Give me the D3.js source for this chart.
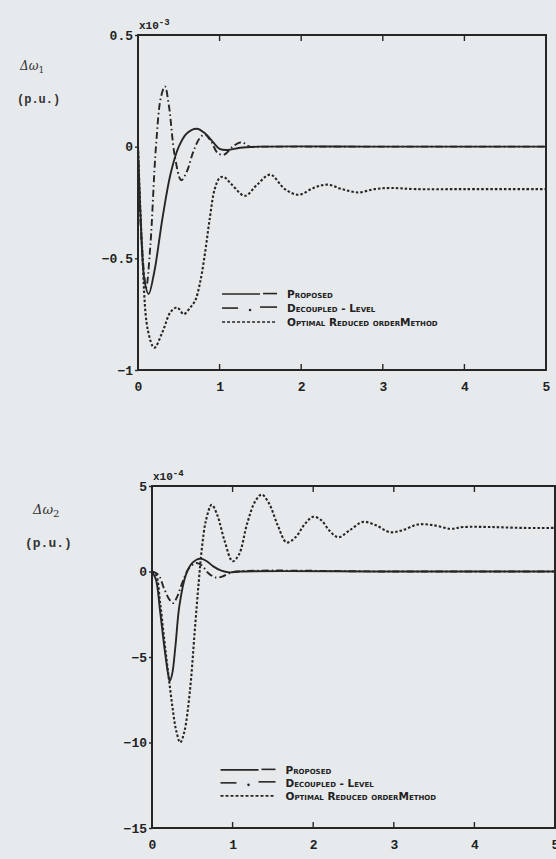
<!DOCTYPE html>
<html>
<head>
<meta charset="utf-8">
<script src="https://cdn.jsdelivr.net/npm/d3@7/dist/d3.min.js"></script>
<style>
  html, body { margin: 0; padding: 0; background: #e7eaed; }
  svg { display: block; }
  .tick-lbl { font-family: "Liberation Mono", "DejaVu Sans Mono", monospace; font-weight: bold; font-size: 13px; fill: #222; }
  .lgd { font-family: "DejaVu Sans", sans-serif; font-weight: bold; font-size: 10.5px; font-variant: small-caps; fill: #222; }
  .ylab { font-family: "DejaVu Serif", serif; fill: #333; }
</style>
</head>
<body>
<script>
// ---- data ----
var xTicks = [0, 1, 2, 3, 4, 5];
var topYTicks = [0.5, 0, -0.5, -1];
var botYTicks = [5, 0, -5, -10, -15];
var legendLabels = ["Proposed", "Decoupled - Level", "Optimal Reduced orderMethod"];

// top panel, delta w1 (x10^-3 p.u.)
var top_proposed = [[0,0],[0.03,-0.3],[0.08,-0.6],[0.13,-0.66],[0.2,-0.56],[0.3,-0.32],[0.4,-0.12],[0.5,0.0],
  [0.6,0.06],[0.72,0.08],[0.82,0.06],[0.92,0.02],[1.0,-0.01],[1.1,-0.015],[1.25,-0.005],[1.5,0],[3,0],[5,0]];
var top_decoupled = [[0,0],[0.04,-0.4],[0.1,-0.63],[0.15,-0.45],[0.22,0.0],[0.28,0.22],[0.33,0.27],[0.38,0.18],
  [0.45,-0.04],[0.53,-0.15],[0.6,-0.11],[0.68,-0.02],[0.76,0.04],[0.82,0.055],[0.9,0.02],[0.98,-0.03],[1.06,-0.035],
  [1.16,0.0],[1.27,0.02],[1.37,0.0],[1.5,0],[3,0],[5,0]];
var top_optimal = [[0,0],[0.05,-0.45],[0.12,-0.82],[0.2,-0.9],[0.3,-0.83],[0.4,-0.74],[0.48,-0.72],[0.56,-0.75],
  [0.64,-0.72],[0.7,-0.69],[0.76,-0.61],[0.82,-0.48],[0.88,-0.32],[0.94,-0.19],[1.0,-0.14],[1.05,-0.135],[1.15,-0.17],
  [1.31,-0.22],[1.46,-0.17],[1.62,-0.125],[1.8,-0.19],[1.97,-0.215],[2.15,-0.185],[2.32,-0.17],[2.5,-0.19],
  [2.7,-0.205],[2.9,-0.19],[3.1,-0.185],[3.4,-0.19],[4,-0.19],[5,-0.19]];

// bottom panel, delta w2 (x10^-4 p.u.)
var bot_proposed = [[0,0],[0.05,-0.5],[0.1,-2.3],[0.15,-4.3],[0.2,-6.0],[0.22,-6.4],[0.25,-6.0],[0.29,-4.4],
  [0.34,-2.0],[0.42,-0.2],[0.5,0.5],[0.6,0.75],[0.68,0.6],[0.76,0.3],[0.86,0.05],[0.96,-0.05],[1.1,0],[3,0],[5,0]];
var bot_decoupled = [[0,0],[0.08,-0.2],[0.15,-1.0],[0.21,-1.6],[0.26,-1.85],[0.31,-1.5],[0.38,-0.6],[0.46,0.2],
  [0.55,0.5],[0.62,0.35],[0.7,-0.1],[0.79,-0.35],[0.87,-0.3],[0.96,-0.1],[1.05,0],[3,0],[5,0]];
var bot_optimal = [[0,0],[0.05,-0.2],[0.1,-1.8],[0.15,-3.9],[0.2,-5.9],[0.25,-7.8],[0.3,-9.3],[0.35,-10],
  [0.4,-9.4],[0.47,-7.0],[0.53,-3.5],[0.58,-0.6],[0.62,1.4],[0.67,3.0],[0.74,3.9],[0.81,3.3],[0.9,1.8],[1.0,0.6],
  [1.08,1.0],[1.18,2.8],[1.28,4.1],[1.36,4.5],[1.45,4.0],[1.56,2.7],[1.67,1.7],[1.78,2.0],[1.9,2.8],[2.0,3.2],
  [2.1,3.0],[2.2,2.4],[2.31,2.0],[2.45,2.4],[2.62,2.9],[2.78,2.7],[2.95,2.3],[3.1,2.4],[3.3,2.75],[3.5,2.7],
  [3.7,2.5],[3.86,2.6],[4.2,2.6],[4.6,2.55],[5,2.55]];

// ---- drawing ----
var W = 556, H = 859;
var svg = d3.select("body").append("svg").attr("width", W).attr("height", H);
var ink = "#262626";

var styles = [
  {dash: null, width: 1.9},
  {dash: "7,3,1.5,3", width: 1.9},
  {dash: "2.5,2", width: 2.1}
];

function drawPanel(p) {
  var x = d3.scaleLinear().domain([0, 5]).range([p.left, p.right]);
  var y = d3.scaleLinear().domain(p.ydom).range([p.bottom, p.top]);
  var g = svg.append("g");

  var clipId = "clip" + p.id;
  svg.append("clipPath").attr("id", clipId).append("rect")
    .attr("x", p.left).attr("y", p.top).attr("width", p.right - p.left).attr("height", p.bottom - p.top);

  var line = d3.line()
    .x(function(d) { return x(d[0]); })
    .y(function(d) { return y(d[1]); })
    .curve(d3.curveCatmullRom.alpha(0.5));

  p.series.forEach(function(s, i) {
    g.append("path")
      .attr("d", line(s))
      .attr("clip-path", "url(#" + clipId + ")")
      .attr("fill", "none")
      .attr("stroke", ink)
      .attr("stroke-width", styles[i].width)
      .attr("stroke-dasharray", styles[i].dash);
  });

  // frame
  g.append("rect")
    .attr("x", p.left).attr("y", p.top)
    .attr("width", p.right - p.left).attr("height", p.bottom - p.top)
    .attr("fill", "none").attr("stroke", ink).attr("stroke-width", 2);

  // x ticks (inside, top and bottom)
  xTicks.slice(1, -1).forEach(function(t) {
    g.append("line").attr("x1", x(t)).attr("x2", x(t)).attr("y1", p.top).attr("y2", p.top + 6)
      .attr("stroke", ink).attr("stroke-width", 1.4);
    g.append("line").attr("x1", x(t)).attr("x2", x(t)).attr("y1", p.bottom).attr("y2", p.bottom - 6)
      .attr("stroke", ink).attr("stroke-width", 1.4);
  });
  var xAxis = d3.axisBottom(x).tickValues(xTicks).tickSize(0).tickPadding(12).tickFormat(d3.format("d"));
  var xa = g.append("g").attr("transform", "translate(0," + p.bottom + ")").call(xAxis);
  xa.select(".domain").remove();
  xa.selectAll("text").attr("class", "tick-lbl").attr("font-size", null).attr("font-family", null).attr("fill", null);

  var yAxis = d3.axisLeft(y).tickValues(p.yticks).tickSize(3).tickPadding(2)
    .tickFormat(function(d) { return String(d).replace("-", "\u2212"); });
  var ya = g.append("g").attr("transform", "translate(" + p.left + ",0)").call(yAxis);
  ya.select(".domain").remove();
  ya.selectAll("line").attr("stroke", ink).attr("stroke-width", 1.4);
  ya.selectAll("text").attr("class", "tick-lbl").attr("font-size", null).attr("font-family", null).attr("fill", null);

  // exponent
  var ex = g.append("text").attr("class", "tick-lbl").attr("x", p.left + 1).attr("y", p.top - 6)
    .style("font-size", "11px");
  ex.append("tspan").text("x10");
  ex.append("tspan").attr("dy", -4).style("font-size", "9px").text(p.exp);

  // legend
  var lx = x(p.legX), ly = y(p.legY);
  legendLabels.forEach(function(lbl, i) {
    var yy = ly + i * p.legStep;
    if (i === 0) {
      g.append("line").attr("x1", lx).attr("x2", lx + 38).attr("y1", yy).attr("y2", yy).attr("stroke", ink).attr("stroke-width", 1.6);
      g.append("line").attr("x1", lx + 41).attr("x2", lx + 55).attr("y1", yy - 0.5).attr("y2", yy - 0.5).attr("stroke", ink).attr("stroke-width", 1.6);
    } else if (i === 1) {
      g.append("line").attr("x1", lx).attr("x2", lx + 16).attr("y1", yy).attr("y2", yy).attr("stroke", ink).attr("stroke-width", 1.6);
      g.append("circle").attr("cx", lx + 28).attr("cy", yy + 2).attr("r", 1.3).attr("fill", ink);
      g.append("line").attr("x1", lx + 38).attr("x2", lx + 55).attr("y1", yy - 1).attr("y2", yy - 1).attr("stroke", ink).attr("stroke-width", 1.6);
    } else {
      g.append("line").attr("x1", lx).attr("x2", lx + 55).attr("y1", yy).attr("y2", yy).attr("stroke", ink)
        .attr("stroke-width", 1.6).attr("stroke-dasharray", "3,2");
    }
    g.append("text").attr("class", "lgd").attr("x", lx + 65).attr("y", yy + 4).text(lbl);
  });

  // y label
  var yl = svg.append("text").attr("class", "ylab").attr("x", p.labX).attr("y", p.labY)
    .style("font-size", p.labSize + "px").style("font-style", "italic");
  yl.append("tspan").text("\u0394\u03c9");
  yl.append("tspan").attr("dy", 3).style("font-size", (p.labSize - 3) + "px").style("font-style", "normal").text(p.sub);
  svg.append("text").attr("class", "ylab").attr("x", p.unitX).attr("y", p.labY + 33)
    .style("font-size", p.labSize + "px").style("font-weight", "bold")
    .style("font-family", "Liberation Mono, monospace").text("(p.u.)");
}

drawPanel({
  id: 1, left: 138, right: 546, top: 35, bottom: 370,
  ydom: [-1, 0.5], yticks: topYTicks, exp: "-3",
  series: [top_proposed, top_decoupled, top_optimal],
  legX: 1.03, legY: -0.66, legStep: 14,
  labX: 20, labY: 70, unitX: 17, labSize: 12, sub: "1"
});

drawPanel({
  id: 2, left: 152, right: 555, top: 486, bottom: 828,
  ydom: [-15, 5], yticks: botYTicks, exp: "-4",
  series: [bot_proposed, bot_decoupled, bot_optimal],
  legX: 0.85, legY: -11.6, legStep: 13,
  labX: 33, labY: 514, unitX: 25, labSize: 13, sub: "2"
});
</script>
</body>
</html>
